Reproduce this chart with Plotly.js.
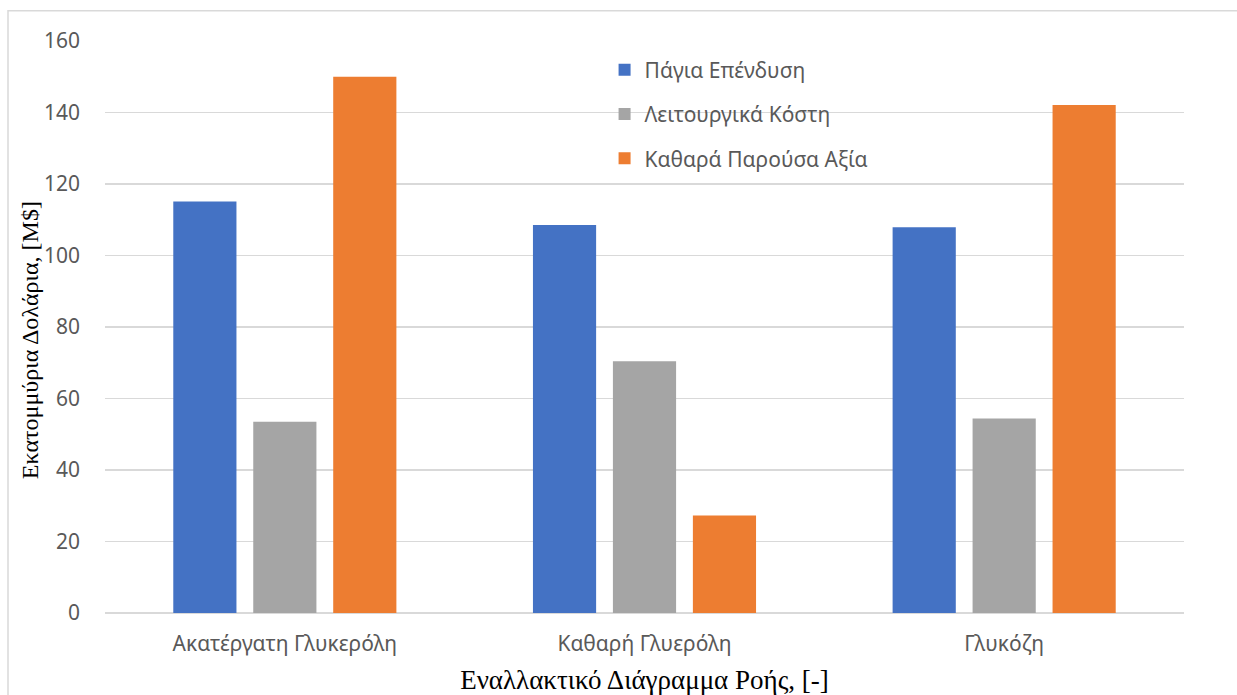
<!DOCTYPE html>
<html>
<head>
<meta charset="utf-8">
<script src="https://cdn.plot.ly/plotly-3.0.1.min.js"></script>
<style>
  html, body { margin: 0; padding: 0; background: #fff; }
  #chart { width: 1237px; height: 695px; }
</style>
</head>
<body>
<div id="chart"></div>
<script>
// Alternative process flowsheets compared on three economic measures (million USD)
const categories = ['Ακατέργατη Γλυκερόλη', 'Καθαρή Γλυερόλη', 'Γλυκόζη'];
const seriesNames = ['Πάγια Επένδυση', 'Λειτουργικά Κόστη', 'Καθαρά Παρούσα Αξία'];
const fixedInvestment = [115.1, 108.5, 107.9];
const operatingCosts = [53.5, 70.4, 54.4];
const netPresentValue = [150.0, 27.3, 142.1];
const yTickValues = [0, 20, 40, 60, 80, 100, 120, 140, 160];

const seriesValues = [fixedInvestment, operatingCosts, netPresentValue];
const seriesColors = ['#4472C4', '#A5A5A5', '#ED7D31'];

const labelFont = { family: 'Noto Sans, sans-serif', size: 21, color: '#595959' };
const serif = 'Liberation Serif, Times New Roman, serif';

const traces = seriesValues.map((vals, i) => ({
  type: 'bar',
  name: seriesNames[i],
  x: categories,
  y: vals,
  marker: { color: seriesColors[i], line: { width: 0 } },
  legendgroup: 'g' + i,
  hoverinfo: 'x+y+name'
}));

const layout = {
  width: 1237,
  height: 695,
  margin: { l: 105, r: 53, t: 41, b: 82, pad: 0 },
  paper_bgcolor: '#ffffff',
  plot_bgcolor: '#ffffff',
  barmode: 'group',
  bargap: 0.333,
  bargroupgap: 0.21,
  showlegend: true,
  legend: {
    x: 0.463, xanchor: 'left',
    y: 0.985, yanchor: 'top',
    font: labelFont,
    bgcolor: 'rgba(0,0,0,0)',
    tracegroupgap: 14,
    traceorder: 'grouped'
  },
  xaxis: {
    type: 'category',
    showgrid: false,
    showline: false,
    zeroline: false,
    ticks: '',
    tickfont: labelFont,
    ticklabelstandoff: 16,
    title: {
      text: 'Εναλλακτικό Διάγραμμα Ροής, [-]',
      font: { family: serif, size: 27, color: '#000000' },
      standoff: 18
    }
  },
  yaxis: {
    range: [0, 160],
    tickvals: yTickValues,
    showgrid: true,
    gridcolor: '#D9D9D9',
    gridwidth: 1.5,
    zeroline: true,
    zerolinecolor: '#D9D9D9',
    zerolinewidth: 1.5,
    showline: false,
    ticks: '',
    tickfont: labelFont,
    ticklabelstandoff: 24
  },
  annotations: [{
    text: 'Εκατομμύρια Δολάρια, [M$]',
    xref: 'paper', yref: 'paper',
    x: -0.0695, y: 0.477,
    xanchor: 'center', yanchor: 'middle',
    textangle: -90,
    showarrow: false,
    font: { family: serif, size: 24, color: '#000000' }
  }],
  shapes: [{
    type: 'rect', xref: 'paper', yref: 'paper',
    x0: -0.0899, x1: 1.06, y0: -0.2, y1: 1.053,
    line: { color: '#D9D9D9', width: 1.5 },
    fillcolor: 'rgba(0,0,0,0)',
    layer: 'below'
  }]
};

Plotly.newPlot('chart', traces, layout, { displayModeBar: false, staticPlot: true });
</script>
</body>
</html>
